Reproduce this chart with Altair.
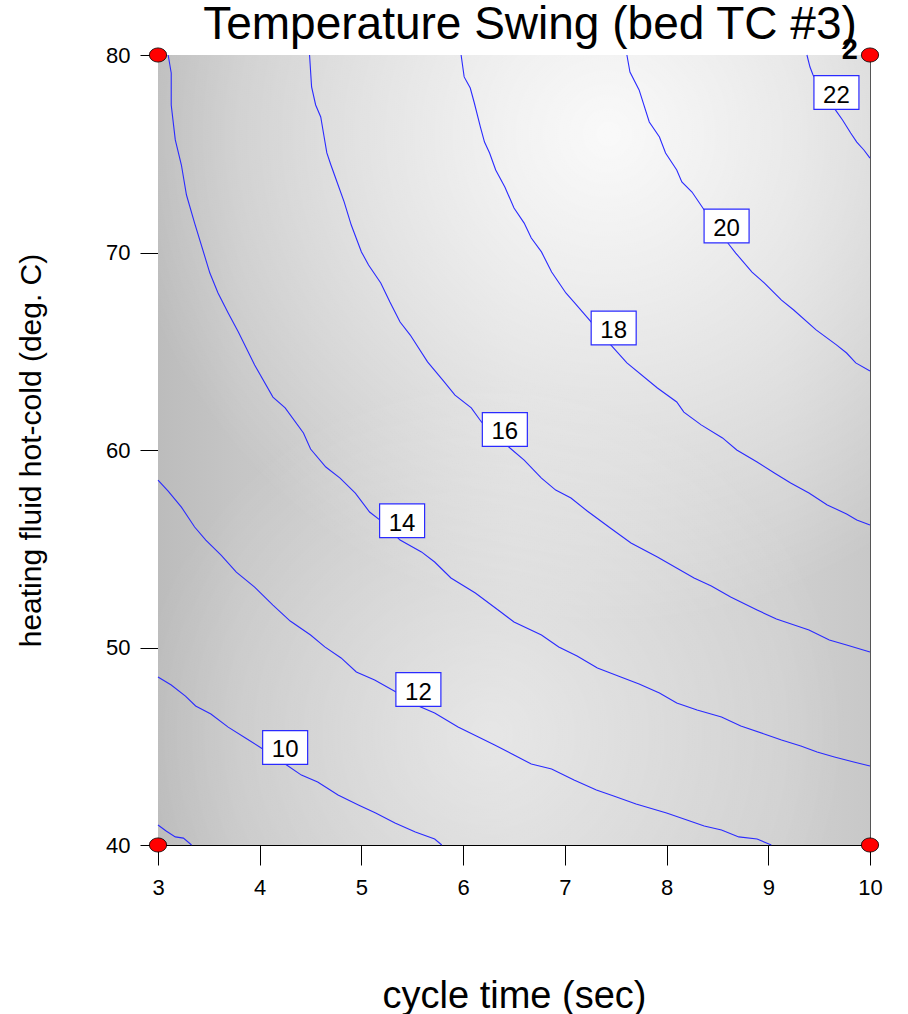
import altair as alt
import pandas as pd

# ---- data ----
x_domain = [3, 10]
y_domain = [40, 80]
x_ticks = [3, 4, 5, 6, 7, 8, 9, 10]
y_ticks = [40, 50, 60, 70, 80]

c8_x = [3.00, 3.08, 3.17, 3.25, 3.33]
c8_y = [41.01, 40.71, 40.41, 40.35, 40.00]

c10_x = [3.00, 3.13, 3.27, 3.37, 3.52, 3.69, 3.86, 4.03, 4.25, 4.41, 4.57, 4.77, 4.97, 5.14, 5.33, 5.53, 5.72, 5.79]
c10_y = [48.51, 48.10, 47.54, 47.04, 46.63, 45.97, 45.42, 44.86, 44.10, 43.54, 43.19, 42.53, 42.03, 41.62, 41.11, 40.66, 40.30, 40.00]

c12_x = [3.00, 3.10, 3.23, 3.36, 3.47, 3.62, 3.77, 3.95, 4.13, 4.30, 4.50, 4.64, 4.80, 4.95, 5.13, 5.34, 5.56, 5.72,
         5.95, 6.13, 6.31, 6.50, 6.67, 6.87, 7.09, 7.31, 7.48, 7.70, 8.00, 8.20, 8.37, 8.54, 8.71, 8.89, 9.03]
c12_y = [58.48, 57.92, 57.11, 56.10, 55.44, 54.68, 53.82, 53.06, 52.15, 51.34, 50.63, 50.03, 49.47, 48.76, 48.35, 47.75, 47.04, 46.68,
         45.97, 45.52, 45.06, 44.56, 44.10, 43.85, 43.29, 42.78, 42.48, 42.08, 41.62, 41.27, 40.96, 40.76, 40.41, 40.30, 40.00]

c14_x = [3.10, 3.13, 3.13, 3.17, 3.23, 3.28, 3.36, 3.51, 3.59, 3.69, 3.79, 3.95, 4.13, 4.25, 4.43, 4.50, 4.65, 4.79, 4.94, 5.08,
         5.18, 5.38, 5.59, 5.72, 5.88, 6.12, 6.37, 6.50, 6.77, 6.94, 7.12, 7.32, 7.55, 7.73, 7.93, 8.10, 8.30, 8.54, 8.73, 8.96,
         9.13, 9.32, 9.48, 9.65, 9.84, 10.00]
c14_y = [80.00, 79.09, 77.47, 75.70, 74.43, 72.91, 71.49, 68.96, 67.95, 66.94, 65.97, 64.30, 62.68, 62.13, 60.86, 60.05, 59.14, 58.58, 57.82, 56.86,
         56.46, 55.44, 54.84, 54.33, 53.52, 52.76, 51.80, 51.29, 50.63, 50.03, 49.57, 48.96, 48.51, 48.15, 47.70, 47.19, 46.84, 46.48, 46.03, 45.62,
         45.32, 45.01, 44.71, 44.46, 44.20, 44.00]

c16_x = [4.49, 4.51, 4.55, 4.60, 4.63, 4.66, 4.70, 4.76, 4.83, 4.90, 5.00, 5.07, 5.19, 5.28, 5.38, 5.48, 5.65, 5.80, 5.92, 6.08,
         6.18, 6.46, 6.60, 6.77, 6.91, 7.06, 7.22, 7.46, 7.65, 7.91, 8.27, 8.44, 8.63, 8.89, 9.08, 9.40, 9.60, 9.77, 10.00]
c16_y = [80.00, 78.38, 77.47, 76.86, 75.95, 75.04, 74.43, 73.57, 72.56, 71.39, 70.03, 69.37, 68.46, 67.49, 66.48, 65.82, 64.46, 63.54, 62.78, 62.13,
         61.42, 60.10, 59.49, 58.58, 57.97, 57.57, 56.91, 56.00, 55.29, 54.58, 53.52, 53.11, 52.56, 51.90, 51.44, 50.89, 50.38, 50.13, 49.77]

c18_x = [5.98, 6.01, 6.07, 6.11, 6.17, 6.21, 6.26, 6.32, 6.41, 6.50, 6.60, 6.67, 6.77, 6.87, 7.01, 7.09, 7.26, 7.46, 7.61, 7.91,
         8.10, 8.17, 8.34, 8.55, 8.69, 8.89, 9.06, 9.22, 9.40, 9.58, 9.77, 9.87, 10.00]
c18_y = [80.00, 78.89, 78.33, 77.57, 76.35, 75.59, 75.04, 74.18, 73.32, 72.25, 71.49, 70.73, 70.03, 69.01, 67.95, 67.49, 66.48, 65.27, 64.41, 63.14,
         62.43, 61.92, 61.27, 60.61, 60.00, 59.39, 58.84, 58.33, 57.82, 57.22, 56.76, 56.46, 56.20]

c20_x = [7.61, 7.64, 7.73, 7.83, 7.93, 7.99, 8.10, 8.15, 8.25, 8.37, 8.61, 8.68, 8.84, 8.96, 9.13, 9.25, 9.47, 9.67, 9.77, 9.86, 10.00]
c20_y = [80.00, 79.14, 78.23, 76.61, 75.85, 75.04, 74.18, 73.57, 73.06, 72.15, 70.43, 69.97, 69.01, 68.46, 67.59, 67.09, 66.08, 65.32, 64.91, 64.41, 64.00]

c22_x = [9.38, 9.41, 9.44, 9.66, 9.73, 9.81, 9.87, 9.94, 10.00]
c22_y = [80.00, 79.39, 78.99, 77.22, 76.71, 76.05, 75.59, 75.19, 74.78]

label_values = ["10", "12", "14", "16", "18", "20", "22"]
label_x = [4.25, 5.56, 5.40, 6.41, 7.48, 8.59, 9.67]
label_y = [44.94, 47.87, 56.42, 61.04, 66.18, 71.34, 78.10]

design_x = [3, 3, 10, 10]
design_y = [40, 80, 40, 80]

replicate_x = [10]
replicate_y = [80]
replicate_label = ["2"]

# ---- tables ----
contours = {8: (c8_x, c8_y), 10: (c10_x, c10_y), 12: (c12_x, c12_y), 14: (c14_x, c14_y),
            16: (c16_x, c16_y), 18: (c18_x, c18_y), 20: (c20_x, c20_y), 22: (c22_x, c22_y)}
rows = []
for lvl, (xs, ys) in contours.items():
    for i, (xv, yv) in enumerate(zip(xs, ys)):
        rows.append({"x": xv, "y": yv, "level": lvl, "order": i})
lines_df = pd.DataFrame(rows)

labels_df = pd.DataFrame({"x": label_x, "y": label_y, "label": label_values})
design_df = pd.DataFrame({"x": design_x, "y": design_y})
rep_df = pd.DataFrame({"x": replicate_x, "y": replicate_y, "label": replicate_label})
bg_df = pd.DataFrame({"x": [x_domain[0]], "x2": [x_domain[1]], "y": [y_domain[0]], "y2": [y_domain[1]]})

FONT = "Liberation Sans"

xscale = alt.Scale(domain=x_domain, nice=False, zero=False)
yscale = alt.Scale(domain=y_domain, nice=False, zero=False)

xaxis = alt.Axis(values=x_ticks, format="d", tickSize=20, labelPadding=12, labelFontSize=22, labelFont=FONT,
                 labelColor="black", tickColor="black", domainColor="black", grid=False, labelFlush=False,
                 titleFontSize=38, titleFont=FONT, titleFontWeight="normal", titleColor="black",
                 titleY=162, titleBaseline="alphabetic")
yaxis = alt.Axis(values=y_ticks, format="d", tickSize=18, labelPadding=10, labelFontSize=22, labelFont=FONT,
                 labelColor="black", tickColor="black", domainColor="black", grid=False, labelFlush=False,
                 titleFontSize=30, titleFont=FONT, titleFontWeight="normal", titleColor="black",
                 titleX=-118, titleBaseline="alphabetic")


def X():
    return alt.X("x:Q", scale=xscale, axis=xaxis, title="cycle time (sec)")


def Y():
    return alt.Y("y:Q", scale=yscale, axis=yaxis, title="heating fluid hot-cold (deg. C)")


base_grad = {"gradient": "linear", "x1": 0, "y1": 0, "x2": 1, "y2": 0,
             "stops": [{"offset": 0, "color": "#bcbcbc"},
                       {"offset": 0.12, "color": "#c6c6c6"},
                       {"offset": 0.5, "color": "#d3d3d3"},
                       {"offset": 0.88, "color": "#cfcfcf"},
                       {"offset": 1, "color": "#c8c8c8"}]}
top_glow = {"gradient": "radial", "x1": 0.62, "y1": 0.1, "r1": 0, "x2": 0.62, "y2": 0.1, "r2": 0.62,
            "stops": [{"offset": 0, "color": "rgba(255,255,255,0.88)"},
                      {"offset": 0.5, "color": "rgba(255,255,255,0.45)"},
                      {"offset": 1, "color": "rgba(255,255,255,0)"}]}
bottom_glow = {"gradient": "radial", "x1": 0.47, "y1": 0.86, "r1": 0, "x2": 0.47, "y2": 0.86, "r2": 0.45,
               "stops": [{"offset": 0, "color": "rgba(255,255,255,0.45)"},
                         {"offset": 0.6, "color": "rgba(255,255,255,0.18)"},
                         {"offset": 1, "color": "rgba(255,255,255,0)"}]}

bg_enc = dict(x=X(), x2=alt.X2("x2"), y=Y(), y2=alt.Y2("y2"))
bg1 = alt.Chart(bg_df).mark_rect(fill=base_grad).encode(**bg_enc)
bg2 = alt.Chart(bg_df).mark_rect(fill=top_glow).encode(**bg_enc)
bg3 = alt.Chart(bg_df).mark_rect(fill=bottom_glow).encode(**bg_enc)

lines = alt.Chart(lines_df).mark_line(color="#2a2aff", strokeWidth=1.1).encode(
    x=X(), y=Y(), detail="level:N", order="order:Q")

box_path = "M-1,-0.75L1,-0.75L1,0.75L-1,0.75Z"
boxes = alt.Chart(labels_df).mark_point(shape=box_path, size=2025, filled=True, fill="white", fillOpacity=1,
                                        stroke="#2a2aff", strokeWidth=1.2, opacity=1).encode(x=X(), y=Y())
texts = alt.Chart(labels_df).mark_text(font=FONT, fontSize=24, color="black", align="center",
                                       baseline="alphabetic", dy=10).encode(x=X(), y=Y(), text="label:N")

ellipse = ("M1,0L0.924,0.314L0.707,0.58L0.383,0.758L0,0.82L-0.383,0.758L-0.707,0.58L-0.924,0.314"
           "L-1,0L-0.924,-0.314L-0.707,-0.58L-0.383,-0.758L0,-0.82L0.383,-0.758L0.707,-0.58L0.924,-0.314Z")
dots = alt.Chart(design_df).mark_point(shape=ellipse, size=300, filled=True, fill="#ff0000", fillOpacity=1,
                                       stroke="black", strokeWidth=0.8, opacity=1).encode(x=X(), y=Y())
rep = alt.Chart(rep_df).mark_text(font=FONT, fontSize=29, fontWeight="bold", color="black", align="right",
                                  baseline="alphabetic", dx=-12, dy=4).encode(x=X(), y=Y(), text="label:N")

chart = alt.layer(bg1, bg2, bg3, lines, boxes, texts, dots, rep).properties(
    width=712, height=790,
    autosize=alt.AutoSizeParams(type="none"),
    padding={"left": 158, "top": 55, "right": 38, "bottom": 169},
    background="white",
    title=alt.TitleParams("Temperature Swing (bed TC #3)", fontSize=46, font=FONT, fontWeight="normal",
                          color="black", anchor="middle", frame="group", offset=0,
                          baseline="alphabetic", dx=16, dy=49),
).configure_view(stroke="#555555", strokeWidth=1)

chart.save("out.html", embed_options={"renderer": "svg", "actions": False})
